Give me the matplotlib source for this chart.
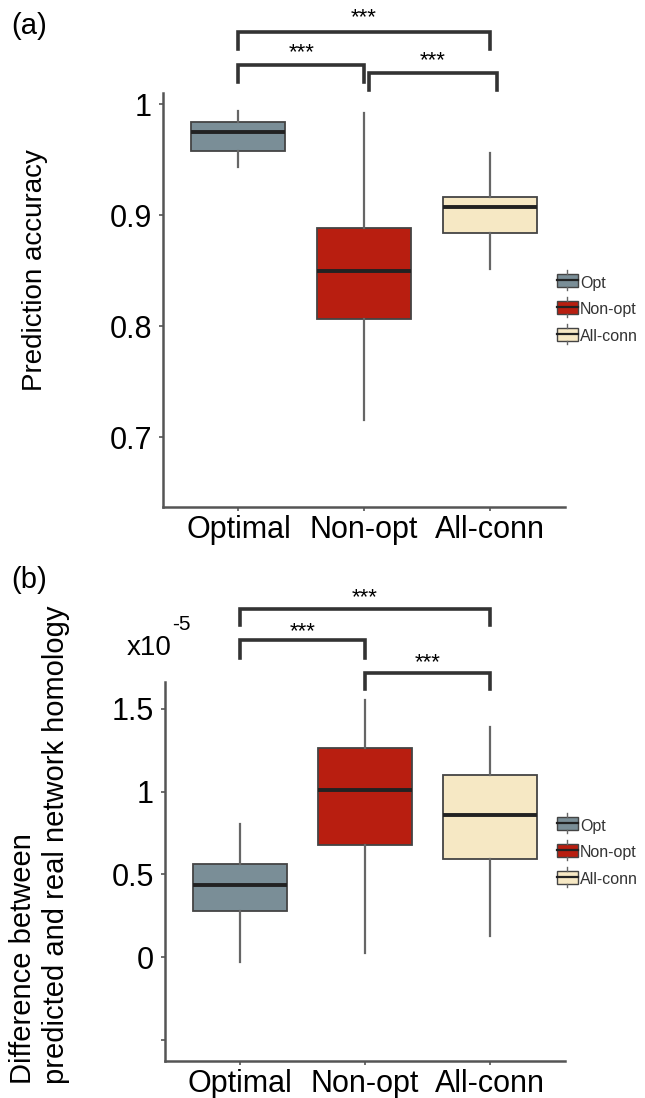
import matplotlib
matplotlib.use("Agg")
import matplotlib.pyplot as plt
from matplotlib.patches import Rectangle, Patch
from matplotlib.lines import Line2D
from matplotlib.legend_handler import HandlerBase

plt.rcParams['font.family'] = ['Liberation Sans', 'DejaVu Sans']

# data
groups = ["Optimal", "Non-opt", "All-conn"]
legend_labels = ["Opt", "Non-opt", "All-conn"]
colors = ["#7a8e97", "#b81e10", "#f6e8c4"]

# (a) prediction accuracy
acc_whislo = [0.943, 0.715, 0.851]
acc_q1 = [0.958, 0.806, 0.884]
acc_med = [0.975, 0.850, 0.907]
acc_q3 = [0.984, 0.888, 0.916]
acc_whishi = [0.994, 0.992, 0.956]

# (b) difference in homology (x1e-5)
hom_whislo = [-0.03, 0.024, 0.131]
hom_q1 = [0.277, 0.679, 0.593]
hom_med = [0.438, 1.010, 0.858]
hom_q3 = [0.566, 1.265, 1.100]
hom_whishi = [0.807, 1.557, 1.390]

W, H = 645, 1098
fig = plt.figure(figsize=(W / 100, H / 100), dpi=100)


def px(x0, y0, x1, y1):
    return [x0 / W, 1 - y1 / H, (x1 - x0) / W, (y1 - y0) / H]


class BoxHandler(HandlerBase):
    def create_artists(self, legend, orig, xd, yd, w, h, fontsize, trans):
        r = Rectangle((xd, yd), w, h, facecolor=orig.get_facecolor(),
                      edgecolor="#444444", lw=1.0, transform=trans)
        m = Line2D([xd, xd + w], [yd + h / 2] * 2, color="#222222", lw=1.6, transform=trans)
        s1 = Line2D([xd + w / 2] * 2, [yd + h, yd + h + 2.5], color="#666666", lw=1.0, transform=trans)
        s2 = Line2D([xd + w / 2] * 2, [yd, yd - 2.5], color="#666666", lw=1.0, transform=trans)
        return [r, m, s1, s2]


def draw_panel(ax, lo, q1, med, q3, hi):
    stats = []
    for i in range(len(groups)):
        stats.append(dict(med=med[i], q1=q1[i], q3=q3[i], whislo=lo[i], whishi=hi[i],
                          fliers=[], label=groups[i]))
    bp = ax.bxp(stats, positions=[1, 2, 3], widths=0.75, patch_artist=True,
                showcaps=False, showfliers=False,
                boxprops=dict(edgecolor="#444444", lw=1.3),
                whiskerprops=dict(color="#666666", lw=1.6),
                medianprops=dict(color="#222222", lw=2.8))
    for patch, c in zip(bp['boxes'], colors):
        patch.set_facecolor(c)
    ax.set_xlim(0.4, 3.6)
    for s in ["top", "right"]:
        ax.spines[s].set_visible(False)
    for s in ["left", "bottom"]:
        ax.spines[s].set_color("#555555")
        ax.spines[s].set_linewidth(1.8)
    ax.tick_params(axis="both", colors="#555555", length=3, width=1.2, labelsize=22,
                   labelcolor="black")
    ax.tick_params(axis="x", pad=3)
    ax.tick_params(axis="y", pad=5)


def bracket(ax, x0, x1, ytop, ybot, ytext):
    ax.plot([x0, x0, x1, x1], [ybot, ytop, ytop, ybot], color="#333333", lw=2.6,
            clip_on=False, solid_joinstyle="miter")
    ax.text((x0 + x1) / 2, ytext, "***", ha="center", va="center", fontsize=16,
            clip_on=False)


handles = [Patch(facecolor=c) for c in colors]
leg_kw = dict(handler_map={Patch: BoxHandler()}, loc="center left", frameon=False,
              fontsize=11.5, handlelength=1.3, handleheight=0.85, labelspacing=0.75,
              handletextpad=0.15, borderpad=0, borderaxespad=0, labelcolor="#333333")

# panel (a)
ax1 = fig.add_axes(px(163, 93, 565, 507))
draw_panel(ax1, acc_whislo, acc_q1, acc_med, acc_q3, acc_whishi)
ax1.set_ylim(0.637, 1.01)
ax1.set_yticks([0.7, 0.8, 0.9, 1.0])
ax1.set_yticklabels(["0.7", "0.8", "0.9", "1"])
bracket(ax1, 1, 3, 1.0648, 1.0495, 1.078)
bracket(ax1, 1, 2, 1.035, 1.0198, 1.046)
bracket(ax1, 2.04, 3.06, 1.028, 1.0126, 1.039)
fig.text(35 / W, 1 - 270 / H, "Prediction accuracy", rotation=90, ha="center", va="center",
         fontsize=20)
fig.text(11 / W, 1 - 26 / H, "(a)", ha="left", va="center", fontsize=21)
fig.legend(handles, legend_labels, bbox_to_anchor=(557 / W, 1 - 310 / H), **leg_kw)

# panel (b)
ax2 = fig.add_axes(px(165, 682, 565, 1061))
draw_panel(ax2, hom_whislo, hom_q1, hom_med, hom_q3, hom_whishi)
ax2.set_ylim(-0.627, 1.663)
ax2.set_yticks([-0.5, 0, 0.5, 1, 1.5])
ax2.set_yticklabels(["", "0", "0.5", "1", "1.5"])
bracket(ax2, 1, 3, 2.107, 2.010, 2.17)
bracket(ax2, 1, 2, 1.914, 1.805, 1.965)
bracket(ax2, 2, 3, 1.715, 1.619, 1.78)
fig.text(127 / W, 1 - 648 / H, "x10", ha="left", va="center", fontsize=20)
fig.text(172 / W, 1 - 625 / H, "-5", ha="left", va="center", fontsize=15)
fig.text(23 / W, 1 - 1084 / H, "Difference between", rotation=90, ha="center", va="bottom",
         fontsize=21)
fig.text(56 / W, 1 - 1084 / H, "predicted and real network homology", rotation=90,
         ha="center", va="bottom", fontsize=21)
fig.text(11 / W, 1 - 580 / H, "(b)", ha="left", va="center", fontsize=21)
fig.legend(handles, legend_labels, bbox_to_anchor=(557 / W, 1 - 853 / H), **leg_kw)

fig.savefig("out.png", dpi=100)
